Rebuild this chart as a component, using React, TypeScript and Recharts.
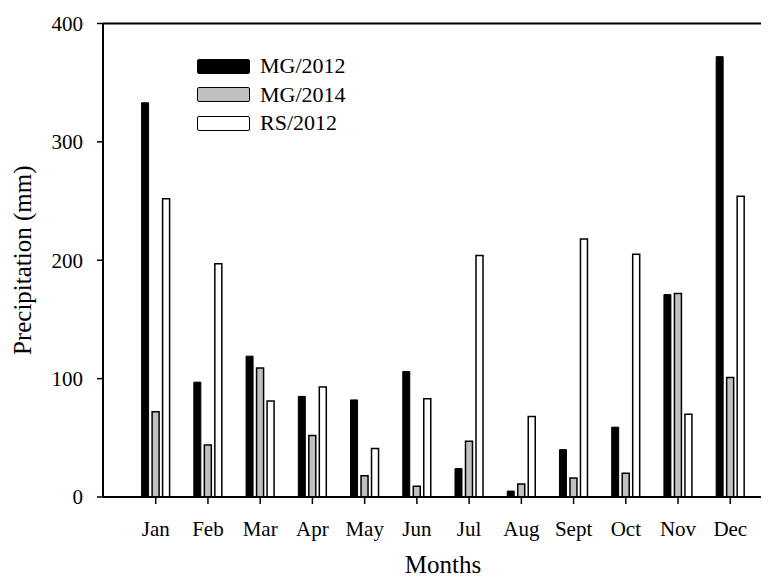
import { BarChart, Bar, XAxis, YAxis, Legend, ReferenceLine } from 'recharts'

const months = ['Jan', 'Feb', 'Mar', 'Apr', 'May', 'Jun', 'Jul', 'Aug', 'Sept', 'Oct', 'Nov', 'Dec']
const mg2012 = [333, 97, 119, 85, 82, 106, 24, 5, 40, 59, 171, 372]
const mg2014 = [72, 44, 109, 52, 18, 9, 47, 11, 16, 20, 172, 101]
const rs2012 = [252, 197, 81, 93, 41, 83, 204, 68, 218, 205, 70, 254]
const yTicks = [0, 100, 200, 300, 400]

const data = months.map((month, i) => ({
  month,
  mg2012: mg2012[i],
  mg2014: mg2014[i],
  rs2012: rs2012[i],
}))

const serif = '"Liberation Serif", Tinos, "Times New Roman", "DejaVu Serif", serif'

// legend: wide swatches stacked on top of each other, label to the right
function LegendBox({ payload }: any) {
  return (
    <div>
      {(payload || []).map((entry: any) => (
        <div key={entry.value} style={{ display: 'flex', alignItems: 'center', height: 28.5 }}>
          <span
            style={{
              display: 'inline-block',
              width: 53,
              height: 15,
              background: entry.color,
              border: '1.5px solid #000',
              borderRadius: 2,
              boxSizing: 'border-box',
            }}
          />
          <span style={{ marginLeft: 10, fontSize: 22, color: '#000', lineHeight: 1, fontFamily: serif }}>
            {entry.value}
          </span>
        </div>
      ))}
    </div>
  )
}

export default function App() {
  return (
    <div style={{ margin: -8, width: 769, height: 583, overflow: 'hidden', background: '#fff', fontFamily: serif }}>
      <BarChart
        width={783}
        height={583}
        data={data}
        margin={{ top: 23.5, right: 0, bottom: 0, left: 0 }}
        barSize={7}
        barGap={3.5}
        style={{ fontFamily: serif }}
      >
        <XAxis
          dataKey="month"
          padding={{ left: 26.6, right: 26.6 }}
          height={86}
          axisLine={{ stroke: '#000', strokeWidth: 2 }}
          tickLine={{ stroke: '#000', strokeWidth: 1.5 }}
          tickSize={7}
          tickMargin={17}
          tick={{ fill: '#000', fontSize: 21, fontFamily: serif }}
          interval={0}
          label={{
            value: 'Months',
            position: 'insideBottom',
            offset: 0,
            dy: -10,
            fill: '#000',
            fontSize: 25,
            fontFamily: serif,
          }}
        />
        <YAxis
          domain={[0, 400]}
          ticks={yTicks}
          width={103}
          axisLine={{ stroke: '#000', strokeWidth: 2 }}
          tickLine={{ stroke: '#000', strokeWidth: 1.5 }}
          tickSize={6}
          tickMargin={14}
          tick={{ fill: '#000', fontSize: 21, fontFamily: serif }}
          label={{
            value: 'Precipitation (mm)',
            angle: -90,
            position: 'center',
            dx: -29.5,
            fill: '#000',
            fontSize: 25,
            fontFamily: serif,
          }}
        />
        <ReferenceLine y={400} stroke="#000" strokeWidth={2} />
        <Legend
          layout="vertical"
          align="center"
          verticalAlign="middle"
          content={<LegendBox />}
          wrapperStyle={{ top: 52, left: 197, width: 'auto', height: 'auto' }}
        />
        <Bar dataKey="mg2012" name="MG/2012" fill="#000" stroke="#000" strokeWidth={1} isAnimationActive={false} />
        <Bar dataKey="mg2014" name="MG/2014" fill="#c0c0c0" stroke="#000" strokeWidth={1.5} isAnimationActive={false} />
        <Bar dataKey="rs2012" name="RS/2012" fill="#fff" stroke="#000" strokeWidth={1.5} isAnimationActive={false} />
      </BarChart>
    </div>
  )
}
